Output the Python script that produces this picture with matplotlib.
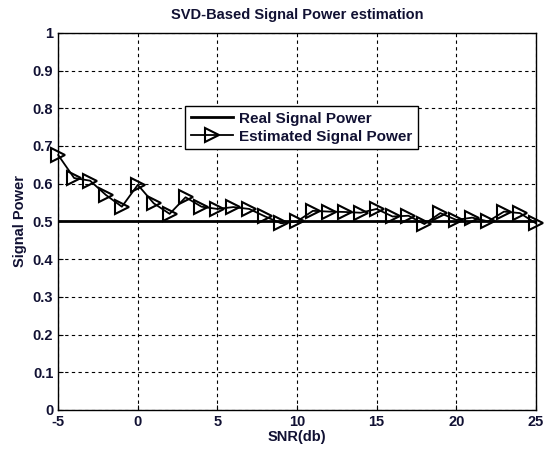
import matplotlib.pyplot as plt

snr = list(range(-5, 26))
real_power = [0.5] * len(snr)
est_power = [0.676, 0.615, 0.608, 0.570, 0.539, 0.597, 0.548, 0.520, 0.564, 0.539,
             0.533, 0.538, 0.533, 0.513, 0.495, 0.500, 0.528, 0.526, 0.525, 0.523,
             0.533, 0.513, 0.515, 0.493, 0.522, 0.504, 0.510, 0.500, 0.526, 0.522,
             0.495]

plt.rcParams['font.family'] = 'Liberation Sans'
plt.rcParams['font.weight'] = 'bold'
plt.rcParams['axes.unicode_minus'] = False
txt = '#111133'

fig = plt.figure(figsize=(5.49, 4.5), dpi=100)
ax = fig.add_axes([0.106, 0.089, 0.870, 0.838])

ax.plot(snr, real_power, color='k', linewidth=2, label='Real Signal Power')
ax.plot(snr, est_power, color='k', linewidth=1.3, marker='>', markersize=9.5,
        markerfacecolor='none', markeredgewidth=1.5, clip_on=False,
        label='Estimated Signal Power')

ax.set_xlim(-5, 25)
ax.set_ylim(0, 1)
ax.set_xticks(range(-5, 26, 5))
ax.set_yticks([i / 10 for i in range(11)])
ax.set_yticklabels(['0'] + ['0.%d' % i for i in range(1, 10)] + ['1'])
ax.grid(True, color='k', linestyle=(0, (3, 3)), linewidth=0.8)
ax.tick_params(direction='in', labelsize=10.5, colors='k', labelcolor=txt)
for s in ax.spines.values():
    s.set_linewidth(1)

ax.set_title('SVD-Based Signal Power estimation', fontsize=10.5, fontweight='bold', color=txt, pad=10)
ax.set_xlabel('SNR(db)', fontsize=10.5, fontweight='bold', color=txt, labelpad=1)
ax.set_ylabel('Signal Power', fontsize=10.5, fontweight='bold', color=txt, labelpad=4)

leg = ax.legend(loc='upper left', bbox_to_anchor=(0.25, 0.825), fancybox=False,
                framealpha=1, edgecolor='k', fontsize=11, borderpad=0.35,
                labelspacing=0.25, handlelength=2.8, handletextpad=0.4)
leg.get_frame().set_linewidth(1)
for t in leg.get_texts():
    t.set_color(txt)

plt.savefig('out.png')
